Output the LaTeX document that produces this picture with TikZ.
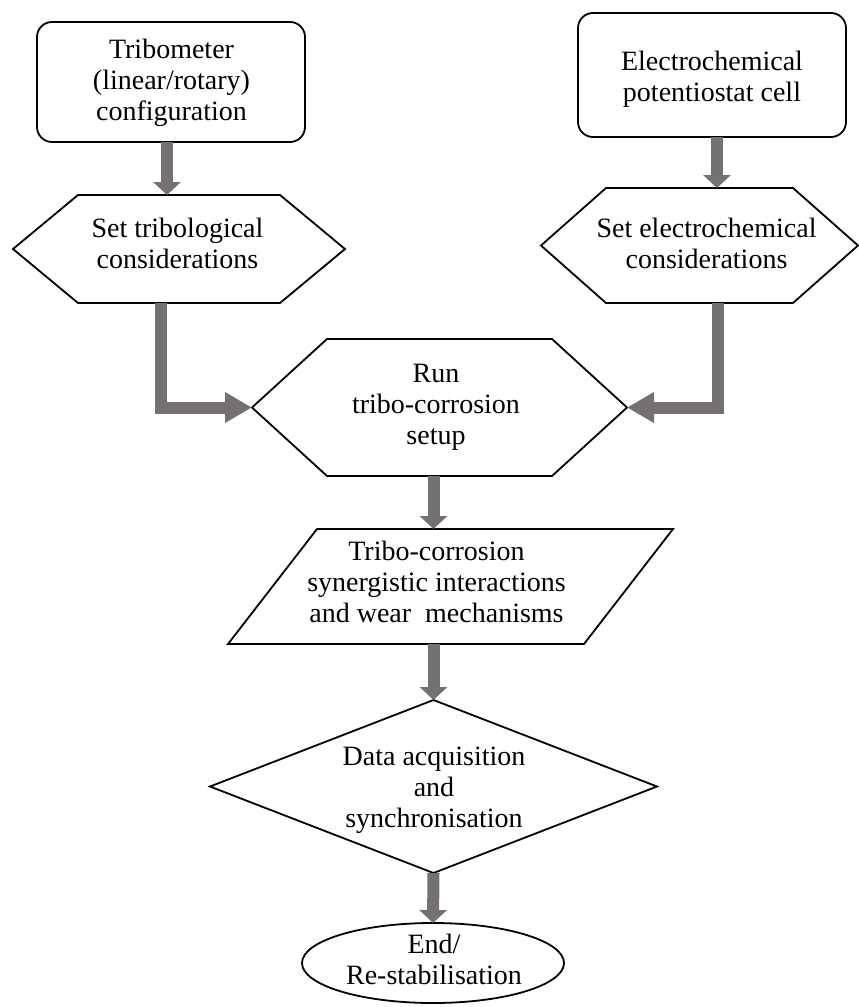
\documentclass[tikz,border=0pt]{standalone}
\usepackage{fontspec}
\setmainfont{Liberation Serif}
\usetikzlibrary{arrows.meta,calc,shapes.geometric}
\definecolor{arrgray}{RGB}{118,113,113}
\begin{document}
\begin{tikzpicture}[x=1pt,y=-1pt,
  frame/.style={draw=none,inner sep=0pt,outer sep=0pt,rectangle},
  outline/.style={draw=black,line width=1.8pt,fill=white,line join=miter},
  roundbox/.style={rectangle,draw=black,line width=1.8pt,fill=white,rounded corners=15pt,inner sep=0pt,outer sep=0pt},
  endshape/.style={ellipse,draw=black,line width=1.8pt,fill=white,inner sep=0pt,outer sep=0pt},
  lbl/.style={inner sep=0pt,outer sep=0pt,align=center,font=\fontsize{28}{31}\selectfont},
  flowv/.style={draw=arrgray,line width=12pt,line join=miter,-{Triangle[width=27pt,length=13pt]}},
  flowh/.style={draw=arrgray,line width=12pt,line join=miter,-{Triangle[width=29pt,length=27pt]}},
]
\useasboundingbox (0,0) rectangle (859,1007);

% shapes
\node[roundbox,minimum width=268pt,minimum height=120pt] (tribo) at (171,82) {};
\node[roundbox,minimum width=268pt,minimum height=124pt] (electro) at (712,75) {};
\node[frame,minimum width=332pt,minimum height=108pt] (hex1) at (179,249) {};
\node[frame,minimum width=317pt,minimum height=115pt] (hex2) at (699.5,245.5) {};
\node[frame,minimum width=375pt,minimum height=137pt] (run) at (439.5,407.5) {};
\node[frame,minimum width=445pt,minimum height=115pt] (para) at (450.5,586.5) {};
\node[frame,minimum width=447pt,minimum height=173pt] (diam) at (433.5,786.5) {};
\node[endshape,minimum width=262pt,minimum height=80pt] (endn) at (433,963) {};

\draw[outline] (hex1.west) -- ($(hex1.north west)+(65,0)$) -- ($(hex1.north east)+(-65,0)$) -- (hex1.east) -- ($(hex1.south east)+(-65,0)$) -- ($(hex1.south west)+(65,0)$) -- cycle;
\draw[outline] (hex2.west) -- ($(hex2.north west)+(65,0)$) -- ($(hex2.north east)+(-65,0)$) -- (hex2.east) -- ($(hex2.south east)+(-65,0)$) -- ($(hex2.south west)+(65,0)$) -- cycle;
\draw[outline] (run.west) -- ($(run.north west)+(75,0)$) -- ($(run.north east)+(-75,0)$) -- (run.east) -- ($(run.south east)+(-75,0)$) -- ($(run.south west)+(75,0)$) -- cycle;
\draw[outline] (para.south west) -- ($(para.north west)+(89,0)$) -- (para.north east) -- ($(para.south east)+(-89,0)$) -- cycle;
\draw[outline] (diam.north) -- (diam.east) -- (diam.south) -- (diam.west) -- cycle;

% texts
\node[lbl] (tribotxt) at (171.5,82.8) {\strut Tribometer\\\strut(linear/rotary)\\\strut configuration};
\node[lbl] (electrotxt) at (712,79.3) {\strut Electrochemical\\\strut potentiostat cell};
\node[lbl] (hex1txt) at (177.5,246.3) {\strut Set tribological\\\strut considerations};
\node[lbl] (hex2txt) at (706.5,246.3) {\strut Set electrochemical\\\strut considerations};
\node[lbl] (runtxt) at (436,406.8) {\strut Run\\\strut tribo-corrosion\\\strut setup};
\node[lbl] (paratxt) at (436.5,584.8) {\strut Tribo-corrosion\\\strut synergistic interactions\\\strut and wear~~mechanisms};
\node[lbl] (diamtxt) at (434,789.8) {\strut Data acquisition\\\strut and\\\strut synchronisation};
\node[lbl] (endtxt) at (434,962.3) {\strut End/\\\strut Re-stabilisation};

% connectors
\draw[flowv] ($(tribo.south)+(-4,0)$) -- ($(tribo.south |- hex1.north)+(-4,0)$);
\draw[flowv] ($(electro.south)+(5,0)$) -- ($(electro.south |- hex2.north)+(5,0)$);
\draw[flowh] ($(hex1.south)+(-18,0)$) |- (run.west);
\draw[flowh] ($(hex2.south)+(18.5,0)$) |- (run.east);
\draw[flowv] (run.south -| diam.north) -- (para.north -| diam.north);
\draw[flowv] (para.south -| diam.north) -- (diam.north);
\draw[flowv] (diam.south) -- (endn.north);
\end{tikzpicture}
\end{document}
